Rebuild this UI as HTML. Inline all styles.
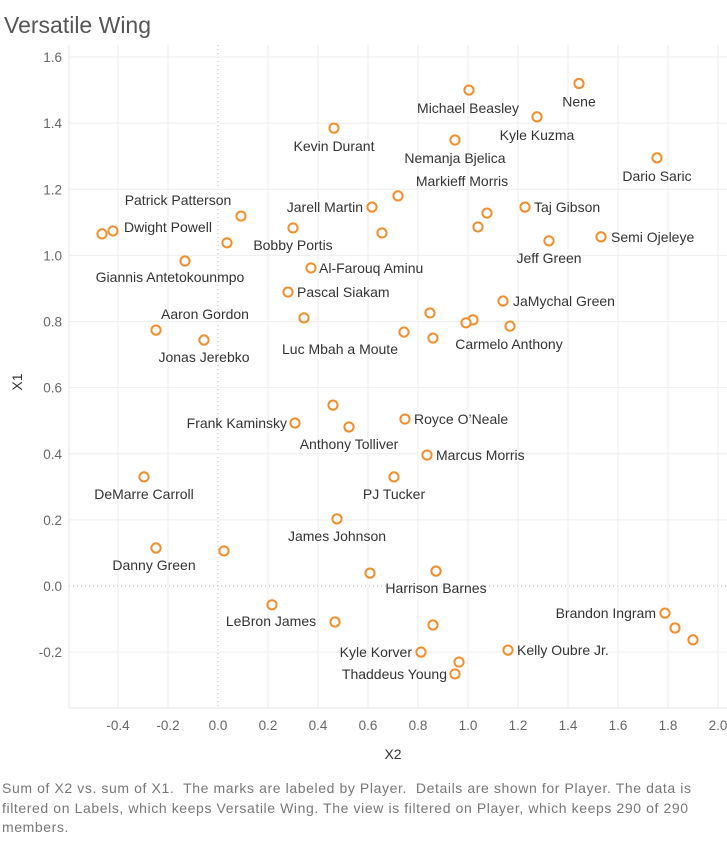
<!DOCTYPE html>
<html><head><meta charset="utf-8"><style>
body{margin:0;background:#fff;width:727px;height:842px;overflow:hidden;font-family:"Liberation Sans",sans-serif}
svg{position:absolute;left:0;top:0}
.cap{position:absolute;left:2px;top:779px;width:725px;font-size:14px;line-height:19.5px;color:#777;letter-spacing:0.6px;white-space:nowrap}
</style></head><body>
<svg id="chart" width="727" height="842">
<text x="4" y="33" font-size="23" fill="#555">Versatile Wing</text>
<g id="grid"></g><g id="axes"></g><g id="marks"></g><g id="labels"></g>
<text x="393" y="759" font-size="14" fill="#333" text-anchor="middle">X2</text>
<text x="22" y="382" font-size="14" fill="#333" text-anchor="middle" transform="rotate(-90 22 382)">X1</text>
</svg>
<div class="cap">Sum of X2 vs. sum of X1.&nbsp; The marks are labeled by Player.&nbsp; Details are shown for Player. The data is<br>filtered on Labels, which keeps Versatile Wing. The view is filtered on Player, which keeps 290 of 290<br>members.</div>
<script>
const xTicks=[-0.4,-0.2,0.0,0.2,0.4,0.6,0.8,1.0,1.2,1.4,1.6,1.8,2.0];
const yTicks=[-0.2,0.0,0.2,0.4,0.6,0.8,1.0,1.2,1.4,1.6];
const players=["Michael Beasley","Nene","Kyle Kuzma","Kevin Durant","Nemanja Bjelica","Dario Saric","Markieff Morris","Jarell Martin","Taj Gibson","","Patrick Patterson","Bobby Portis","Dwight Powell","","","","","Jeff Green","Semi Ojeleye","Giannis Antetokounmpo","Al-Farouq Aminu","Pascal Siakam","JaMychal Green","Aaron Gordon","","","","","","Luc Mbah a Moute","Carmelo Anthony","Jonas Jerebko","","Royce O’Neale","Frank Kaminsky","Anthony Tolliver","Marcus Morris","DeMarre Carroll","PJ Tucker","James Johnson","Danny Green","","","Harrison Barnes","LeBron James","","","Brandon Ingram","","","Kyle Korver","Kelly Oubre Jr.","","Thaddeus Young"];
const x2=[1.004,1.444,1.276,0.464,0.948,1.756,0.72,0.616,1.228,1.076,0.092,0.3,-0.42,-0.464,1.04,0.656,0.036,1.324,1.532,-0.132,0.372,0.28,1.14,-0.248,0.344,0.848,1.02,0.992,1.168,0.744,0.86,-0.056,0.46,0.748,0.308,0.524,0.836,-0.296,0.704,0.476,-0.248,0.024,0.608,0.872,0.216,0.468,0.86,1.788,1.828,1.9,0.812,1.16,0.964,0.948];
const x1=[1.50,1.52,1.419,1.385,1.349,1.295,1.18,1.146,1.146,1.128,1.119,1.083,1.074,1.065,1.086,1.068,1.038,1.044,1.056,0.983,0.962,0.889,0.862,0.774,0.811,0.826,0.805,0.796,0.786,0.768,0.75,0.744,0.547,0.505,0.493,0.481,0.396,0.33,0.33,0.203,0.115,0.106,0.039,0.045,-0.057,-0.109,-0.118,-0.082,-0.127,-0.163,-0.2,-0.194,-0.23,-0.266];
// label placement (offset from mark, px) and anchor
const lpos=[[-1,18,'m'],[0,18,'m'],[0,18,'m'],[0,18,'m'],[0,18,'m'],[0,18,'m'],[64,-15,'m'],[-9,0,'e'],[9,0,'s'],[0,0,'m'],[-63,-16,'m'],[0,17,'m'],[11,-4,'s'],[0,0,'m'],[0,0,'m'],[0,0,'m'],[0,0,'m'],[0,17,'m'],[10,0,'s'],[-15,16,'m'],[8,0,'s'],[9,0,'s'],[10,0,'s'],[49,-16,'m'],[0,0,'m'],[0,0,'m'],[0,0,'m'],[0,0,'m'],[0,0,'m'],[-64,17,'m'],[76,6,'m'],[0,17,'m'],[0,0,'m'],[9,0,'s'],[-8,0,'e'],[0,17,'m'],[9,0,'s'],[0,17,'m'],[0,17,'m'],[0,17,'m'],[-2,17,'m'],[0,0,'m'],[0,0,'m'],[0,17,'m'],[-1,16,'m'],[0,0,'m'],[0,0,'m'],[-9,0,'e'],[0,0,'m'],[0,0,'m'],[-9,0,'e'],[9,0,'s'],[0,0,'m'],[-8,0,'e']];
const X=v=>218+v*250, Y=v=>586-v*330.6;
const NS='http://www.w3.org/2000/svg';
function mk(tag,attrs,parent){const e=document.createElementNS(NS,tag);for(const k in attrs)e.setAttribute(k,attrs[k]);document.getElementById(parent).appendChild(e);return e;}
xTicks.forEach(t=>{
  const l=mk('line',{x1:X(t),x2:X(t),y1:45,y2:708,stroke:t===0?'#bbb':'#eee','stroke-width':1,'stroke-dasharray':t===0?'1,3':'none'},'grid');
  
  
  const tx=mk('text',{x:X(t),y:730,'font-size':13.5,fill:'#666','text-anchor':'middle'},'axes');
  tx.textContent=t.toFixed(1);
  
  
});
yTicks.forEach(t=>{
  const l=mk('line',{x1:69,x2:727,y1:Y(t),y2:Y(t),stroke:t===0?'#bbb':'#eee','stroke-width':1,'stroke-dasharray':t===0?'1,3':'none'},'grid');
  
  
  const tx=mk('text',{x:62,y:Y(t)+5,'font-size':13.5,fill:'#666','text-anchor':'end'},'axes');
  tx.textContent=t.toFixed(1);
  
  
});
mk('line',{x1:69,x2:69,y1:45,y2:708,stroke:'#e6e6e6'},'axes');
mk('line',{x1:69,x2:727,y1:708,y2:708,stroke:'#e6e6e6'},'axes');
x2.forEach((v,i)=>{
  const c=mk('circle',{cx:X(v),cy:Y(x1[i]),r:4.6,fill:'#fff',stroke:'#f28e2b','stroke-width':2},'marks');
  
  
  if(players[i]){
    const p=lpos[i];
    const t=mk('text',{x:X(v)+p[0],y:Y(x1[i])+p[1]+5,'font-size':14,fill:'#333','text-anchor':p[2]==='m'?'middle':(p[2]==='e'?'end':'start')},'labels');
    t.textContent=players[i];
    
    
  }
});
</script>
</body></html>
